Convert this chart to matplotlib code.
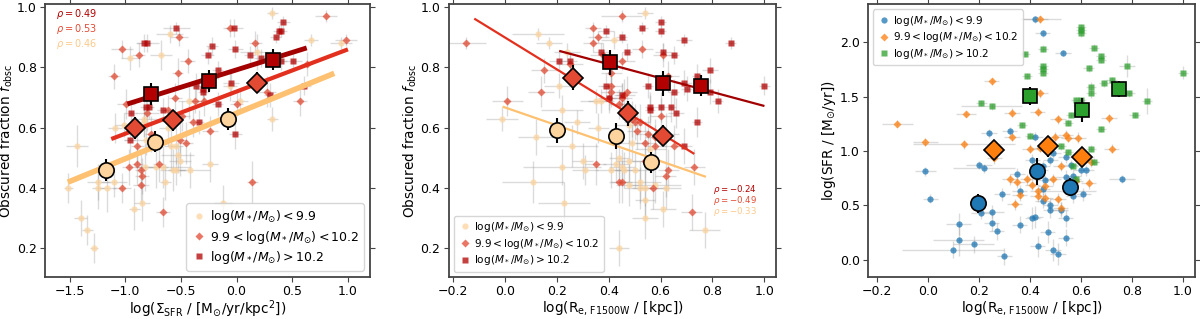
import numpy as np
import matplotlib
matplotlib.use("Agg")
import matplotlib.pyplot as plt

# ---------------- panel 1: f_obsc vs log Sigma_SFR ----------------
s1_lo_x = [0.32, 0.67, 0.94, -0.60, -0.96, -0.68, 0.18, -0.06, 0.03, -0.43,
           0.32, -1.09, -1.01, -0.83, -1.43, -0.62, -0.81, -0.59, -0.53, -0.51,
           -0.57, -0.54, -0.42, -0.82, -0.66, -0.24, -1.51, -1.24, -1.24, -1.16,
           -1.10, -0.64, -0.92, -0.85, -1.40, -1.34, -1.28, -0.12, -0.72, -0.54,
           -0.83]
s1_lo_y = [0.98, 0.89, 0.88, 0.91, 0.83, 0.84, 0.85, 0.74, 0.69, 0.69,
           0.63, 0.60, 0.61, 0.63, 0.54, 0.60, 0.56, 0.54, 0.51, 0.49,
           0.46, 0.46, 0.46, 0.47, 0.47, 0.48, 0.40, 0.42, 0.40, 0.40,
           0.42, 0.42, 0.33, 0.35, 0.30, 0.26, 0.20, 0.35, 0.47, 0.54,
           0.62]
s1_lo_xe = [0.05, 0.06, 0.10, 0.12, 0.08, 0.10, 0.15, 0.06, 0.07, 0.10,
            0.05, 0.06, 0.08, 0.12, 0.10, 0.08, 0.20, 0.06, 0.15, 0.10,
            0.12, 0.08, 0.18, 0.09, 0.25, 0.07, 0.04, 0.10, 0.06, 0.08,
            0.12, 0.05, 0.05, 0.07, 0.06, 0.05, 0.04, 0.08, 0.10, 0.06,
            0.12]
s1_lo_ye = [0.02, 0.02, 0.02, 0.03, 0.04, 0.05, 0.06, 0.05, 0.04, 0.06,
            0.04, 0.05, 0.04, 0.06, 0.07, 0.06, 0.05, 0.08, 0.06, 0.05,
            0.07, 0.05, 0.06, 0.08, 0.07, 0.06, 0.05, 0.06, 0.07, 0.08,
            0.05, 0.06, 0.07, 0.06, 0.06, 0.05, 0.05, 0.06, 0.07, 0.06,
            0.05]

s1_mid_x = [0.80, 0.98, -0.06, -0.52, -1.03, -0.88, -0.44, -0.53, -1.10, 0.17,
            -0.99, -0.55, -0.37, -0.80, -0.49, -0.29, 0.00, -0.39, -0.24, -0.89,
            -0.77, -0.97, -0.89, -0.86, -0.85, -0.86, -0.70, -0.45, -1.03, -0.66,
            0.14, 0.27, 0.57, 0.63, -0.51, -0.62]
s1_mid_y = [0.97, 0.89, 0.93, 0.90, 0.86, 0.84, 0.82, 0.78, 0.77, 0.88,
            0.68, 0.70, 0.69, 0.65, 0.64, 0.69, 0.68, 0.62, 0.59, 0.54,
            0.58, 0.47, 0.48, 0.46, 0.44, 0.41, 0.48, 0.55, 0.40, 0.32,
            0.42, 0.72, 0.69, 0.81, 0.56, 0.66]
s1_mid_xe = [0.10, 0.10, 0.06, 0.08, 0.10, 0.06, 0.07, 0.05, 0.05, 0.06,
             0.08, 0.06, 0.05, 0.10, 0.07, 0.08, 0.06, 0.05, 0.07, 0.06,
             0.05, 0.06, 0.05, 0.05, 0.06, 0.07, 0.05, 0.06, 0.08, 0.06,
             0.05, 0.08, 0.06, 0.05, 0.06, 0.05]
s1_mid_ye = [0.02, 0.02, 0.03, 0.03, 0.03, 0.04, 0.04, 0.05, 0.04, 0.04,
             0.05, 0.05, 0.04, 0.06, 0.05, 0.05, 0.04, 0.05, 0.05, 0.06,
             0.06, 0.06, 0.07, 0.06, 0.06, 0.06, 0.06, 0.07, 0.05, 0.05,
             0.07, 0.05, 0.05, 0.04, 0.06, 0.05]

s1_hi_x = [-0.54, 0.42, 0.38, 0.40, -0.02, -0.83, -0.80, -0.22, -0.26, -0.01,
           0.12, 0.22, 0.40, 0.51, 0.35, -0.36, -0.30, -0.30, -0.05, -0.17,
           -0.81, -0.79, -0.66, -0.95, -0.34, -0.01, -0.96, 0.30, 0.61, -0.17]
s1_hi_y = [0.93, 0.95, 0.92, 0.92, 0.93, 0.88, 0.88, 0.87, 0.84, 0.86,
           0.84, 0.83, 0.82, 0.82, 0.90, 0.74, 0.73, 0.72, 0.75, 0.79,
           0.67, 0.67, 0.66, 0.65, 0.62, 0.58, 0.56, 0.71, 0.74, 0.68]
s1_hi_xe = [0.12, 0.06, 0.05, 0.05, 0.08, 0.06, 0.10, 0.05, 0.06, 0.07,
            0.05, 0.06, 0.05, 0.08, 0.05, 0.05, 0.06, 0.05, 0.07, 0.05,
            0.06, 0.05, 0.05, 0.06, 0.05, 0.06, 0.05, 0.05, 0.06, 0.05]
s1_hi_ye = [0.02, 0.02, 0.02, 0.02, 0.03, 0.03, 0.03, 0.03, 0.03, 0.03,
            0.03, 0.03, 0.03, 0.03, 0.02, 0.04, 0.04, 0.04, 0.04, 0.03,
            0.04, 0.04, 0.04, 0.04, 0.04, 0.05, 0.05, 0.04, 0.03, 0.04]

# binned medians
b1_lo_x = [-1.17, -0.73, -0.08]
b1_lo_y = [0.459, 0.554, 0.629]
b1_mid_x = [-0.91, -0.57, 0.18]
b1_mid_y = [0.599, 0.624, 0.750]
b1_hi_x = [-0.77, -0.25, 0.33]
b1_hi_y = [0.712, 0.756, 0.826]
b1_err = [0.036, 0.036, 0.036]

# linear fits: slope, intercept, x range
fit1_lo = (0.151, 0.648, -1.515, 0.877)
fit1_mid = (0.140, 0.720, -1.125, 1.0)
fit1_hi = (0.1155, 0.792, -0.98, 0.63)
rho1 = ["0.49", "0.53", "0.46"]

# ---------------- panel 2: f_obsc vs log Re ----------------
s2_lo_x = [0.54, 0.13, 0.17, 0.24, 0.21, 0.22, -0.01, 0.12, 0.26, 0.28,
           0.36, 0.37, 0.35, 0.30, 0.31, 0.22, 0.11, 0.23, 0.41, 0.43,
           0.44, 0.45, 0.46, 0.48, 0.48, 0.50, 0.49, 0.52, 0.52, 0.54,
           0.54, 0.54, 0.58, 0.61, 0.62, 0.77, 0.44, 0.42, 0.48, 0.56]
s2_lo_y = [0.98, 0.91, 0.88, 0.85, 0.74, 0.66, 0.63, 0.57, 0.54, 0.62,
           0.60, 0.69, 0.69, 0.49, 0.46, 0.47, 0.42, 0.35, 0.46, 0.48,
           0.50, 0.47, 0.46, 0.49, 0.41, 0.46, 0.55, 0.42, 0.40, 0.40,
           0.36, 0.30, 0.41, 0.33, 0.40, 0.26, 0.20, 0.89, 0.61, 0.53]
s2_lo_xe = [0.03, 0.10, 0.05, 0.05, 0.06, 0.08, 0.06, 0.07, 0.10, 0.05,
            0.04, 0.05, 0.06, 0.04, 0.05, 0.15, 0.12, 0.10, 0.06, 0.05,
            0.04, 0.05, 0.06, 0.05, 0.05, 0.07, 0.05, 0.08, 0.06, 0.05,
            0.04, 0.05, 0.10, 0.05, 0.06, 0.06, 0.04, 0.05, 0.05, 0.06]
s2_lo_ye = [0.02, 0.02, 0.02, 0.03, 0.04, 0.05, 0.04, 0.06, 0.07, 0.04,
            0.05, 0.04, 0.04, 0.06, 0.05, 0.06, 0.07, 0.07, 0.06, 0.06,
            0.07, 0.06, 0.06, 0.07, 0.07, 0.06, 0.06, 0.07, 0.07, 0.06,
            0.06, 0.07, 0.06, 0.06, 0.07, 0.06, 0.06, 0.03, 0.06, 0.06]

s2_mid_x = [0.45, 0.34, 0.36, 0.34, 0.53, 0.45, 0.41, 0.15, 0.25, 0.14,
            0.01, -0.15, 0.41, 0.40, 0.45, 0.46, 0.47, 0.41, 0.44, 0.49,
            0.50, 0.51, 0.52, 0.55, 0.54, 0.58, 0.58, 0.60, 0.62, 0.63,
            0.65, 0.54, 0.35, 0.44, 0.45, 0.57, 0.62, 0.63, 0.73, 0.72,
            0.61, 0.38]
s2_mid_y = [0.97, 0.93, 0.90, 0.88, 0.86, 0.82, 0.78, 0.79, 0.81, 0.72,
            0.69, 0.88, 0.72, 0.70, 0.70, 0.71, 0.72, 0.74, 0.68, 0.63,
            0.62, 0.59, 0.62, 0.58, 0.55, 0.54, 0.57, 0.64, 0.58, 0.77,
            0.54, 0.49, 0.48, 0.42, 0.42, 0.40, 0.44, 0.46, 0.47, 0.32,
            0.84, 0.84]
s2_mid_xe = [0.08, 0.03, 0.04, 0.04, 0.04, 0.05, 0.04, 0.05, 0.05, 0.05,
             0.06, 0.08, 0.04, 0.04, 0.04, 0.04, 0.04, 0.04, 0.04, 0.04,
             0.04, 0.04, 0.04, 0.05, 0.04, 0.04, 0.04, 0.04, 0.05, 0.04,
             0.04, 0.05, 0.04, 0.04, 0.04, 0.05, 0.04, 0.04, 0.04, 0.04,
             0.04, 0.05]
s2_mid_ye = [0.02, 0.02, 0.02, 0.03, 0.03, 0.03, 0.04, 0.04, 0.04, 0.05,
             0.05, 0.02, 0.05, 0.05, 0.05, 0.05, 0.05, 0.05, 0.05, 0.06,
             0.06, 0.06, 0.06, 0.06, 0.07, 0.07, 0.06, 0.06, 0.07, 0.05,
             0.07, 0.07, 0.07, 0.07, 0.07, 0.07, 0.07, 0.07, 0.06, 0.06,
             0.04, 0.04]

s2_hi_x = [0.60, 0.60, 0.53, 0.39, 0.45, 0.69, 0.87, 0.37, 0.47, 0.61,
           0.65, 0.21, 0.25, 0.79, 0.74, 1.00, 0.39, 0.55, 0.65, 0.69,
           0.70, 0.79, 0.82, 0.40, 0.56, 0.60, 0.64, 0.66, 0.74, 0.69,
           0.45, 0.56]
s2_hi_y = [0.95, 0.92, 0.93, 0.92, 0.90, 0.89, 0.88, 0.85, 0.85, 0.85,
           0.84, 0.82, 0.82, 0.79, 0.77, 0.74, 0.74, 0.74, 0.72, 0.75,
           0.73, 0.72, 0.69, 0.70, 0.67, 0.67, 0.67, 0.65, 0.62, 0.54,
           0.71, 0.66]
s2_hi_xe = [0.02, 0.02, 0.02, 0.03, 0.02, 0.03, 0.02, 0.03, 0.02, 0.03,
            0.02, 0.04, 0.03, 0.03, 0.02, 0.02, 0.03, 0.02, 0.02, 0.03,
            0.02, 0.03, 0.02, 0.03, 0.02, 0.02, 0.02, 0.03, 0.02, 0.03,
            0.02, 0.02]
s2_hi_ye = [0.02, 0.02, 0.02, 0.02, 0.02, 0.02, 0.02, 0.03, 0.03, 0.03,
            0.03, 0.03, 0.03, 0.04, 0.04, 0.03, 0.04, 0.04, 0.04, 0.04,
            0.04, 0.04, 0.04, 0.04, 0.05, 0.05, 0.05, 0.05, 0.05, 0.06,
            0.04, 0.05]

b2_lo_x = [0.20, 0.43, 0.563]
b2_lo_y = [0.591, 0.573, 0.486]
b2_mid_x = [0.262, 0.473, 0.608]
b2_mid_y = [0.766, 0.648, 0.573]
b2_hi_x = [0.405, 0.608, 0.755]
b2_hi_y = [0.817, 0.747, 0.739]
b2_err = [0.042, 0.042, 0.035]

fit2_lo = (-0.2976, 0.6676, -0.008, 0.775)
fit2_mid = (-0.530, 0.900, -0.117, 0.73)
fit2_hi = (-0.2316, 0.9036, 0.21, 1.0)
rho2 = ["-0.24", "-0.49", "-0.33"]

# ---------------- panel 3: log SFR vs log Re ----------------
s3_lo_x = [0.42, 0.45, 0.53, 0.24, 0.32, 0.42, -0.01, 0.01, 0.20, 0.22,
           0.35, 0.41, 0.44, 0.45, 0.48, 0.49, 0.46, 0.45, 0.54, 0.56,
           0.57, 0.54, 0.56, 0.57, 0.60, 0.62, 0.61, 0.76, 0.21, 0.25,
           0.25, 0.27, 0.29, 0.36, 0.36, 0.41, 0.42, 0.47, 0.48, 0.48,
           0.52, 0.54, 0.54, 0.43, 0.49, 0.51, 0.30, 0.12, 0.12, 0.10,
           0.18, 0.45]
s3_lo_y = [2.21, 2.08, 1.90, 1.16, 1.18, 1.13, 0.81, 0.56, 0.87, 0.84,
           0.79, 0.92, 0.82, 0.86, 0.92, 0.98, 0.73, 0.65, 0.94, 0.87,
           0.77, 0.76, 0.63, 0.58, 0.82, 0.82, 0.60, 0.74, 0.43, 0.44,
           0.34, 0.26, 0.60, 0.63, 0.32, 0.38, 0.39, 0.25, 0.50, 0.46,
           0.46, 0.38, 0.20, 0.12, 0.09, 0.05, 0.03, 0.33, 0.18, 0.09,
           0.14, 0.54]
s3_lo_xe = [0.05, 0.03, 0.03, 0.03, 0.03, 0.03, 0.04, 0.03, 0.05, 0.12,
            0.03, 0.03, 0.03, 0.03, 0.03, 0.03, 0.04, 0.03, 0.03, 0.03,
            0.03, 0.04, 0.10, 0.03, 0.03, 0.03, 0.03, 0.05, 0.04, 0.05,
            0.03, 0.03, 0.03, 0.03, 0.03, 0.03, 0.03, 0.03, 0.03, 0.03,
            0.03, 0.03, 0.03, 0.03, 0.03, 0.03, 0.03, 0.05, 0.10, 0.20,
            0.08, 0.03]
s3_lo_ye = [0.03, 0.03, 0.03, 0.04, 0.04, 0.04, 0.04, 0.04, 0.04, 0.04,
            0.05, 0.05, 0.05, 0.05, 0.05, 0.06, 0.05, 0.06, 0.05, 0.05,
            0.05, 0.06, 0.06, 0.06, 0.05, 0.05, 0.06, 0.04, 0.06, 0.06,
            0.08, 0.08, 0.06, 0.06, 0.08, 0.10, 0.10, 0.10, 0.07, 0.08,
            0.07, 0.08, 0.08, 0.10, 0.10, 0.10, 0.08, 0.10, 0.15, 0.08,
            0.08, 0.07]

s3_mid_x = [0.44, 0.25, 0.15, -0.12, -0.01, 0.14, 0.33, 0.33, 0.44, 0.43,
            0.40, 0.44, 0.50, 0.51, 0.54, 0.55, 0.59, 0.59, 0.26, 0.32,
            0.35, 0.39, 0.41, 0.46, 0.49, 0.52, 0.43, 0.36, 0.34, 0.43,
            0.46, 0.51, 0.52, 0.58, 0.62, 0.64, 0.63, 0.71, 0.72, 0.60]
s3_mid_y = [2.21, 1.64, 1.34, 1.25, 1.08, 1.06, 1.35, 1.13, 1.53, 1.36,
            1.02, 1.03, 1.13, 1.29, 1.15, 1.12, 1.12, 0.95, 0.93, 0.74,
            0.71, 0.74, 0.69, 0.68, 0.74, 0.86, 0.63, 0.59, 0.51, 0.58,
            0.57, 0.56, 0.47, 0.72, 0.94, 0.90, 0.70, 1.30, 1.02, 0.95]
s3_mid_xe = [0.08, 0.03, 0.04, 0.06, 0.05, 0.20, 0.03, 0.03, 0.03, 0.03,
             0.03, 0.03, 0.03, 0.03, 0.03, 0.03, 0.03, 0.03, 0.03, 0.03,
             0.03, 0.03, 0.03, 0.03, 0.03, 0.03, 0.03, 0.03, 0.03, 0.03,
             0.03, 0.03, 0.03, 0.03, 0.03, 0.03, 0.03, 0.03, 0.03, 0.03]
s3_mid_ye = [0.03, 0.03, 0.03, 0.03, 0.04, 0.04, 0.04, 0.04, 0.04, 0.04,
             0.04, 0.04, 0.04, 0.04, 0.04, 0.04, 0.05, 0.05, 0.05, 0.05,
             0.05, 0.05, 0.05, 0.05, 0.05, 0.05, 0.05, 0.05, 0.05, 0.05,
             0.05, 0.05, 0.06, 0.05, 0.05, 0.05, 0.05, 0.04, 0.04, 0.05]

s3_hi_x = [0.60, 0.60, 0.60, 0.38, 0.45, 0.45, 0.45, 0.45, 0.39, 0.65,
           0.68, 0.68, 0.63, 0.78, 1.00, 0.64, 0.64, 0.69, 0.72, 0.79,
           0.86, 0.81, 0.21, 0.25, 0.37, 0.40, 0.58, 0.60, 0.59, 0.56,
           0.55, 0.52, 0.55, 0.64, 0.65, 0.57, 0.58, 0.68]
s3_hi_y = [2.14, 2.11, 2.08, 1.89, 1.94, 1.78, 1.75, 1.72, 1.69, 1.95,
           1.87, 1.84, 1.76, 1.78, 1.72, 1.59, 1.53, 1.62, 1.65, 1.53,
           1.46, 1.33, 1.44, 1.41, 1.24, 1.14, 1.47, 1.47, 1.42, 1.33,
           1.26, 1.04, 0.99, 1.02, 0.90, 0.86, 0.74, 1.20]
s3_hi_xe = [0.02, 0.02, 0.02, 0.02, 0.02, 0.02, 0.02, 0.02, 0.02, 0.02,
            0.02, 0.02, 0.02, 0.03, 0.02, 0.02, 0.02, 0.02, 0.02, 0.02,
            0.02, 0.02, 0.02, 0.12, 0.02, 0.02, 0.02, 0.02, 0.02, 0.02,
            0.02, 0.02, 0.02, 0.02, 0.02, 0.02, 0.02, 0.02]
s3_hi_ye = [0.03, 0.03, 0.03, 0.03, 0.03, 0.03, 0.03, 0.03, 0.03, 0.03,
            0.03, 0.03, 0.03, 0.10, 0.06, 0.04, 0.04, 0.03, 0.03, 0.03,
            0.12, 0.03, 0.03, 0.03, 0.03, 0.03, 0.03, 0.03, 0.03, 0.03,
            0.03, 0.03, 0.03, 0.03, 0.03, 0.03, 0.03, 0.03]

b3_lo_x = [0.195, 0.429, 0.557]
b3_lo_y = [0.517, 0.81, 0.666]
b3_mid_x = [0.258, 0.47, 0.606]
b3_mid_y = [1.005, 1.04, 0.94]
b3_hi_x = [0.40, 0.603, 0.75]
b3_hi_y = [1.505, 1.38, 1.57]
b3_lo_err = [0.09, 0.12, 0.08]
b3_mid_err = [0.09, 0.10, 0.07]
b3_hi_err = [0.08, 0.11, 0.07]

labels = [r'$\log(M_*/M_{\odot}) < 9.9$',
          r'$9.9 < \log(M_*/M_{\odot}) < 10.2$',
          r'$\log(M_*/M_{\odot}) > 10.2$']

c_lo, c_mid, c_hi = '#fdd49e', '#e34a33', '#b30000'
l_lo, l_mid, l_hi = '#fdc171', '#e3301e', '#a30000'
t_lo, t_mid, t_hi = '#1f77b4', '#ff7f0e', '#2ca02c'

plt.rcParams['font.family'] = 'DejaVu Sans'
plt.rcParams['mathtext.fontset'] = 'dejavusans'

fig = plt.figure(figsize=(12, 3.19), dpi=100)
ax1 = fig.add_axes([0.0375, 0.132, 0.271, 0.855])
ax2 = fig.add_axes([0.374, 0.132, 0.273, 0.855])
ax3 = fig.add_axes([0.7233, 0.132, 0.2725, 0.855])


def scatter_group(ax, x, y, xe, ye, color, marker, ms, label, alpha=0.75):
    ax.errorbar(x, y, xerr=xe, yerr=ye, fmt='none', ecolor='#999999',
                elinewidth=1.0, alpha=0.35, zorder=1)
    ax.plot(x, y, ls='none', marker=marker, ms=ms, color=color, mec='none',
            alpha=alpha, label=label, zorder=2)


def binned(ax, x, y, ye, color, marker, ms):
    ax.errorbar(x, y, yerr=ye, fmt='none', ecolor='k', elinewidth=1.5, zorder=5)
    ax.plot(x, y, ls='none', marker=marker, ms=ms, mfc=color, mec='k',
            mew=1.2, zorder=6)


def fit_line(ax, fit, color, lw):
    slope, icpt, x0, x1 = fit
    xx = np.array([x0, x1])
    ax.plot(xx, slope * xx + icpt, color=color, lw=lw, zorder=4,
            solid_capstyle='butt')


def style(ax):
    for sp in ax.spines.values():
        sp.set_color('#444444')
        sp.set_linewidth(1.3)
    ax.tick_params(which='both', direction='out', top=True, right=True,
                   labelsize=9, color='#444444', length=3.5, pad=2.5)


LABEL_FS = 9.8

# panel 1
scatter_group(ax1, s1_lo_x, s1_lo_y, s1_lo_xe, s1_lo_ye, c_lo, 'o', 4.5, labels[0])
scatter_group(ax1, s1_mid_x, s1_mid_y, s1_mid_xe, s1_mid_ye, c_mid, 'D', 4, labels[1])
scatter_group(ax1, s1_hi_x, s1_hi_y, s1_hi_xe, s1_hi_ye, c_hi, 's', 4.2, labels[2])
fit_line(ax1, fit1_lo, l_lo, 4)
fit_line(ax1, fit1_mid, l_mid, 3)
fit_line(ax1, fit1_hi, l_hi, 3.5)
binned(ax1, b1_lo_x, b1_lo_y, b1_err, c_lo, 'o', 11)
binned(ax1, b1_mid_x, b1_mid_y, b1_err, c_mid, 'D', 10)
binned(ax1, b1_hi_x, b1_hi_y, b1_err, c_hi, 's', 10)
for i, (r, c) in enumerate(zip(rho1, [c_hi, c_mid, '#fdc98a'])):
    ax1.text(0.035, 0.965 - i * 0.055, r'$\rho = %s$' % r, color=c,
             fontsize=7, transform=ax1.transAxes, va='center')
ax1.set_xlim(-1.72, 1.2)
ax1.set_ylim(0.105, 1.01)
ax1.set_xticks([-1.5, -1.0, -0.5, 0.0, 0.5, 1.0])
ax1.set_yticks([0.2, 0.4, 0.6, 0.8, 1.0])
ax1.set_xlabel(r'log($\Sigma_{\rm SFR}$ / [M$_{\odot}$/yr/kpc$^2$])', fontsize=LABEL_FS, labelpad=0.5)
ax1.set_ylabel(r'Obscured fraction $f_{\rm obsc}$', fontsize=LABEL_FS, labelpad=1)
ax1.legend(loc='lower right', fontsize=9, handletextpad=0.3, borderpad=0.4,
           labelspacing=0.25, handlelength=1.2, framealpha=0.8)
style(ax1)

# panel 2
scatter_group(ax2, s2_lo_x, s2_lo_y, s2_lo_xe, s2_lo_ye, c_lo, 'o', 4.5, labels[0])
scatter_group(ax2, s2_mid_x, s2_mid_y, s2_mid_xe, s2_mid_ye, c_mid, 'D', 4, labels[1])
scatter_group(ax2, s2_hi_x, s2_hi_y, s2_hi_xe, s2_hi_ye, c_hi, 's', 4.2, labels[2])
fit_line(ax2, fit2_lo, l_lo, 1.6)
fit_line(ax2, fit2_mid, l_mid, 1.6)
fit_line(ax2, fit2_hi, l_hi, 1.6)
binned(ax2, b2_lo_x, b2_lo_y, b2_err, c_lo, 'o', 11)
binned(ax2, b2_mid_x, b2_mid_y, b2_err, c_mid, 'D', 10)
binned(ax2, b2_hi_x, b2_hi_y, b2_err, c_hi, 's', 10)
for i, (r, c) in enumerate(zip(rho2, [c_hi, c_mid, '#fdc98a'])):
    ax2.text(0.805, 0.322 - i * 0.042, r'$\rho = %s$' % r,
             color=c, fontsize=6.2, transform=ax2.transAxes, va='center')
ax2.set_xlim(-0.215, 1.046)
ax2.set_ylim(0.105, 1.01)
ax2.set_xticks([-0.2, 0.0, 0.2, 0.4, 0.6, 0.8, 1.0])
ax2.set_yticks([0.2, 0.4, 0.6, 0.8, 1.0])
ax2.set_xlabel(r'log(R$_{\rm e,\,F1500W}$ / [kpc])', fontsize=LABEL_FS, labelpad=0.5)
ax2.set_ylabel(r'Obscured fraction $f_{\rm obsc}$', fontsize=LABEL_FS, labelpad=1)
ax2.legend(loc='lower left', fontsize=7.6, handletextpad=0.3, borderpad=0.4,
           labelspacing=0.25, handlelength=1.2, framealpha=0.8)
style(ax2)

# panel 3
scatter_group(ax3, s3_lo_x, s3_lo_y, s3_lo_xe, s3_lo_ye, t_lo, 'o', 4.5, labels[0], 0.75)
scatter_group(ax3, s3_mid_x, s3_mid_y, s3_mid_xe, s3_mid_ye, t_mid, 'D', 4, labels[1], 0.75)
scatter_group(ax3, s3_hi_x, s3_hi_y, s3_hi_xe, s3_hi_ye, t_hi, 's', 4.2, labels[2], 0.75)
binned(ax3, b3_lo_x, b3_lo_y, b3_lo_err, t_lo, 'o', 11)
binned(ax3, b3_mid_x, b3_mid_y, b3_mid_err, t_mid, 'D', 10)
binned(ax3, b3_hi_x, b3_hi_y, b3_hi_err, t_hi, 's', 10)
ax3.set_xlim(-0.235, 1.047)
ax3.set_ylim(-0.16, 2.35)
ax3.set_xticks([-0.2, 0.0, 0.2, 0.4, 0.6, 0.8, 1.0])
ax3.set_yticks([0.0, 0.5, 1.0, 1.5, 2.0])
ax3.set_xlabel(r'log(R$_{\rm e,\,F1500W}$ / [kpc])', fontsize=LABEL_FS, labelpad=0.5)
ax3.set_ylabel(r'log(SFR / [M$_{\odot}$/yr])', fontsize=LABEL_FS, labelpad=1)
ax3.legend(loc='upper left', fontsize=7.6, handletextpad=0.3, borderpad=0.4,
           labelspacing=0.25, handlelength=1.2, framealpha=0.8)
style(ax3)

fig.savefig('out.png', dpi=100)
